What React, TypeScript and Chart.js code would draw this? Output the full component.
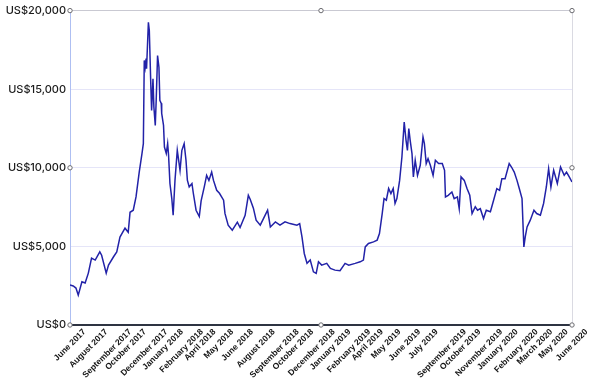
import React, { useEffect, useRef } from 'react';
import { Chart, registerables } from 'chart.js';

Chart.register(...registerables);

// days since the first observation (mid/late June 2017)
const dayOffsets = [
  0, 7, 13, 18, 26, 33, 40, 47, 55, 65, 69, 79, 84, 95, 102, 109, 120, 127, 131, 138,
  144, 151, 157, 160, 162, 164, 166, 167, 171, 173, 176, 178, 181, 183, 186, 188, 191, 194, 196, 199,
  200, 204, 206, 210, 213, 215, 218, 222, 225, 229, 234, 236, 240, 244, 249, 253, 256, 260, 266, 269,
  275, 282, 286, 293, 298, 303, 309, 313, 320, 326, 335, 338, 345, 354, 365, 371, 382, 389, 393, 400,
  406, 415, 422, 431, 437, 448, 458, 469, 480, 495, 501, 506, 511, 517, 524, 531, 537, 542, 549, 560,
  568, 578, 589, 600, 608, 622, 633, 640, 644, 651, 662, 670, 675, 681, 685, 690, 695, 700, 705, 709,
  713, 719, 724, 729, 733, 736, 739, 742, 746, 749, 753, 758, 764, 770, 773, 777, 781, 786, 792, 797,
  804, 812, 817, 819, 825, 833, 838, 845, 849, 853, 860, 866, 872, 877, 884, 889, 895, 902, 908, 917,
  924, 931, 937, 942, 949, 958, 963, 969, 975, 980, 986, 990, 993, 997, 1004, 1012, 1018, 1026, 1033, 1039,
  1044, 1049, 1055, 1063, 1070, 1078, 1083, 1089, 1095,
];

// price in US$
const prices = [
  2540, 2480, 2350, 1900, 2750, 2670, 3300, 4250, 4130, 4650, 4440, 3300, 3810, 4340, 4650, 5590, 6160, 5900, 7170, 7300,
  8150, 9730, 10900, 11540, 16830, 16400, 16950, 16300, 19260, 18730, 15560, 13650, 15660, 13860, 12700, 14290, 17140, 16400, 14290, 14100,
  13460, 12700, 11320, 10920, 11540, 10800, 9000, 8060, 6980, 9200, 11110, 10690, 9840, 11110, 11540, 10480, 9210, 8780, 9000, 8380,
  7300, 6900, 7900, 8800, 9520, 9200, 9730, 9200, 8570, 8380, 7940, 7100, 6350, 6030, 6540, 6200, 6980, 8250, 8000, 7430,
  6670, 6350, 6770, 7300, 6240, 6560, 6350, 6560, 6450, 6350, 6450, 5610, 4550, 3920, 4130, 3380, 3280, 4020, 3810, 3920,
  3600, 3490, 3450, 3920, 3810, 3920, 4020, 4130, 4970, 5190, 5290, 5400, 5820, 7090, 8040, 7940, 8680, 8360, 8680, 7730,
  8040, 9200, 10690, 12910, 11750, 11110, 12490, 11750, 10900, 9420, 10480, 9520, 10160, 11960, 11540, 10270, 10580, 10160, 9520, 10480,
  10270, 10270, 9840, 8150, 8250, 8460, 8040, 8150, 7400, 9420, 9200, 8680, 8250, 7090, 7520, 7300, 7400, 6770, 7300, 7200,
  7940, 8680, 8570, 9310, 9310, 10270, 10050, 9730, 9200, 8680, 8040, 4970, 5610, 6240, 6670, 7300, 7090, 6980, 7730, 8780,
  9940, 8780, 9840, 9000, 10050, 9520, 9730, 9420, 9100,
];

const tickLabels = [
  'June 2017', 'August 2017', 'September 2017', 'October 2017', 'December 2017', 'January 2018',
  'February 2018', 'April 2018', 'May 2018', 'June 2018', 'August 2018', 'September 2018',
  'October 2018', 'December 2018', 'January 2019', 'February 2019', 'April 2019', 'May 2019',
  'June 2019', 'July 2019', 'September 2019', 'October 2019', 'November 2019', 'January 2020',
  'February 2020', 'March 2020', 'May 2020', 'June 2020',
];

const yTicks = [0, 5000, 10000, 15000, 20000];
const currencyPrefix = 'US$';

// centre rotated x labels on their tick (bounding box centred), like the reference
const labelCenter = {
  id: 'labelCenter',
  beforeDraw(chart: any) {
    const scale: any = chart.scales.x;
    const items: any = scale.getLabelItems();
    if (!items || items.__shifted) return;
    const ctx = chart.ctx;
    ctx.save();
    for (const it of items) {
      ctx.font = it.font.string;
      const w = ctx.measureText(String(it.label)).width;
      it.options.translation[0] += (w * Math.SQRT1_2) / 2;
    }
    ctx.restore();
    items.__shifted = true;
  },
};

// small selection handles around the plot frame
const frameHandles = {
  id: 'frameHandles',
  afterDraw(chart: any) {
    const { left, right, top, bottom } = chart.chartArea;
    const xs = [left, (left + right) / 2, right];
    const ys = [top, (top + bottom) / 2, bottom];
    const ctx = chart.ctx;
    ctx.save();
    ctx.lineWidth = 1;
    ctx.strokeStyle = '#6b6b70';
    ctx.fillStyle = '#ffffff';
    for (let i = 0; i < 3; i++) {
      for (let j = 0; j < 3; j++) {
        if (i === 1 && j === 1) continue;
        ctx.beginPath();
        ctx.arc(xs[i], ys[j], 2.2, 0, Math.PI * 2);
        ctx.fill();
        ctx.stroke();
      }
    }
    ctx.restore();
  },
};

export default function App() {
  const canvasRef = useRef<HTMLCanvasElement | null>(null);

  useEffect(() => {
    const canvas = canvasRef.current;
    if (!canvas) return;
    const xMax = dayOffsets[dayOffsets.length - 1];
    const points = dayOffsets.map((d, i) => ({ x: d, y: prices[i] }));
    const chart = new Chart(canvas, {
      type: 'line',
      data: {
        datasets: [
          {
            data: points,
            borderColor: '#2222a8',
            borderWidth: 1.5,
            pointRadius: 0,
            tension: 0,
            fill: false,
          },
        ],
      },
      options: {
        animation: false,
        responsive: false,
        events: [],
        layout: { padding: { top: 10, right: 28, left: 0, bottom: 0 } },
        plugins: { legend: { display: false }, tooltip: { enabled: false } },
        scales: {
          x: {
            type: 'linear',
            min: 0,
            max: xMax,
            afterBuildTicks: (scale: any) => {
              scale.ticks = tickLabels.map((_, i) => ({ value: (i * xMax) / (tickLabels.length - 1) }));
            },
            afterFit: (scale: any) => {
              scale.height = 53;
            },
            ticks: {
              autoSkip: false,
              minRotation: 45,
              maxRotation: 45,
              padding: 2,
              color: '#141414',
              font: { family: 'Liberation Sans', size: 8.5, weight: 'bold' },
              callback: (_v: any, index: number) => tickLabels[index],
            },
            grid: {
              drawTicks: false,
              color: (ctx: any) => (ctx.index === tickLabels.length - 1 ? '#dadae2' : 'rgba(0,0,0,0)'),
              lineWidth: 1,
            },
            border: { display: true, color: '#2e3442', width: 2 },
          },
          y: {
            min: 0,
            max: 20000,
            afterBuildTicks: (scale: any) => {
              scale.ticks = yTicks.map((v) => ({ value: v }));
            },
            afterFit: (scale: any) => {
              scale.width = 70;
            },
            ticks: {
              padding: 4,
              color: '#1c1c1c',
              font: { family: 'Inter', size: 11, weight: '500' },
              callback: (v: any) => currencyPrefix + Number(v).toLocaleString('en-US'),
            },
            grid: {
              drawTicks: false,
              color: (ctx: any) => (ctx.tick && ctx.tick.value === 20000 ? '#c9c9d2' : '#e5e5f8'),
              lineWidth: 1,
            },
            border: { display: true, color: '#aebff2', width: 1 },
          },
        },
      },
      plugins: [labelCenter, frameHandles],
    } as any);
    return () => chart.destroy();
  }, []);

  return (
    <div style={{ position: 'absolute', left: 0, top: 0, width: 600, height: 378, background: '#fff' }}>
      <canvas ref={canvasRef} width={600} height={378} style={{ width: 600, height: 378, display: 'block' }} />
    </div>
  );
}
